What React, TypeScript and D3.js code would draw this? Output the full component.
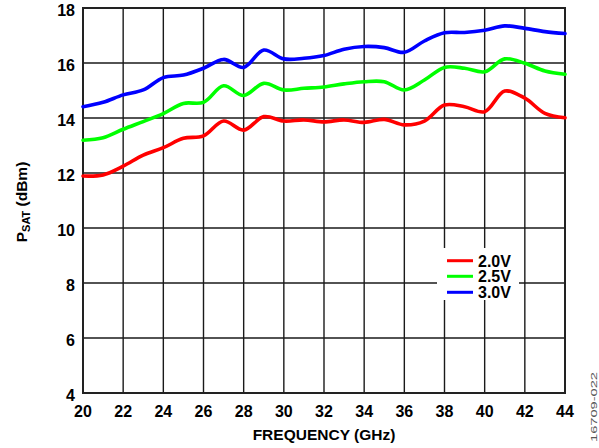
import React from "react";
import * as d3 from "d3";

const W = 599;
const H = 448;

const frequencies = [20, 21, 22, 23, 24, 25, 26, 27, 28, 29, 30, 31, 32, 33, 34, 35, 36, 37, 38, 39, 40, 41, 42, 43, 44];

const psat20V = [11.89, 11.93, 12.25, 12.65, 12.92, 13.26, 13.35, 13.89, 13.56, 14.05, 13.89, 13.93, 13.86, 13.93, 13.84, 13.95, 13.75, 13.89, 14.47, 14.41, 14.23, 14.98, 14.72, 14.17, 14.01];
const psat25V = [13.19, 13.28, 13.59, 13.87, 14.16, 14.53, 14.57, 15.17, 14.82, 15.26, 15.02, 15.08, 15.13, 15.24, 15.32, 15.32, 15.02, 15.38, 15.84, 15.81, 15.68, 16.15, 15.99, 15.71, 15.59];
const psat30V = [14.41, 14.57, 14.84, 15.02, 15.47, 15.56, 15.81, 16.13, 15.84, 16.47, 16.15, 16.17, 16.27, 16.5, 16.6, 16.56, 16.39, 16.8, 17.1, 17.11, 17.19, 17.35, 17.26, 17.14, 17.07];

const seriesNames = ["2.0V", "2.5V", "3.0V"];
const seriesColors = ["#ff0000", "#00ff00", "#0000ff"];
const seriesValues = [psat20V, psat25V, psat30V];

const xTicks = [20, 22, 24, 26, 28, 30, 32, 34, 36, 38, 40, 42, 44];
const yTicks = [4, 6, 8, 10, 12, 14, 16, 18];

const FONT = "'Liberation Sans', Arial, Helvetica, sans-serif";

export default function App() {
  const left = 83;
  const right = 565;
  const top = 8;
  const bottom = 393;

  const x = d3.scaleLinear().domain([20, 44]).range([left, right]);
  const y = d3.scaleLinear().domain([4, 18]).range([bottom, top]);

  const line = d3
    .line<[number, number]>()
    .x((d) => x(d[0]))
    .y((d) => y(d[1]))
    .curve(d3.curveCatmullRom.alpha(0.5));

  const legend = { x0: 437, x1: 519, y0: 248, y1: 300 };
  const legendRows = [260.7, 276.3, 292.3];

  return (
    <svg
      width={W}
      height={H}
      style={{ position: "absolute", left: 0, top: 0, background: "#fff" }}
      fontFamily={FONT}
    >
      <rect x={0} y={0} width={W} height={H} fill="#fff" />

      {/* grid */}
      {xTicks.map((t) => (
        <line key={"gx" + t} x1={x(t)} x2={x(t)} y1={top} y2={bottom} stroke="#1a1a1a" strokeWidth={1.4} />
      ))}
      {yTicks.map((t) => (
        <line key={"gy" + t} x1={left} x2={right} y1={y(t)} y2={y(t)} stroke="#1a1a1a" strokeWidth={1.4} />
      ))}

      {/* legend background hides grid behind it */}
      <rect x={legend.x0} y={legend.y0} width={legend.x1 - legend.x0} height={legend.y1 - legend.y0} fill="#fff" />

      {/* frame */}
      <rect x={left} y={top} width={right - left} height={bottom - top} fill="none" stroke="#222" strokeWidth={2} />

      {/* curves */}
      {seriesValues.map((vals, i) => (
        <path
          key={seriesNames[i]}
          d={line(frequencies.map((f, j) => [f, vals[j]] as [number, number])) || ""}
          fill="none"
          stroke={seriesColors[i]}
          strokeWidth={3.6}
          strokeLinejoin="round"
          strokeLinecap="round"
        />
      ))}

      {/* legend */}
      {seriesNames.map((name, i) => (
        <g key={"lg" + name}>
          <line x1={447} x2={473} y1={legendRows[i]} y2={legendRows[i]} stroke={seriesColors[i]} strokeWidth={3} />
          <text x={478} y={legendRows[i] + 6} fontSize={16} fontWeight="bold" fill="#000">
            {name}
          </text>
        </g>
      ))}

      {/* y tick labels */}
      {yTicks.map((t) => (
        <text key={"ty" + t} x={75} y={y(t) + 7.5} textAnchor="end" fontSize={16} fontWeight="bold" fill="#000">
          {t}
        </text>
      ))}

      {/* x tick labels */}
      {xTicks.map((t) => (
        <text key={"tx" + t} x={x(t)} y={416.5} textAnchor="middle" fontSize={16} fontWeight="bold" fill="#000">
          {t}
        </text>
      ))}

      {/* axis titles */}
      <text x={324} y={440} textAnchor="middle" fontSize={15.5} fontWeight="bold" fill="#000">
        FREQUENCY (GHz)
      </text>
      <text
        transform="translate(27,202) rotate(-90)"
        textAnchor="middle"
        fontSize={15.5}
        fontWeight="bold"
        fill="#000"
      >
        P
        <tspan fontSize={11} dy={3}>SAT</tspan>
        <tspan dy={-3}> (dBm)</tspan>
      </text>

      <text
        transform="translate(597,407) rotate(-90)"
        textAnchor="middle"
        fontSize={9}
        fill="#555"
        textLength={70}
        lengthAdjust="spacingAndGlyphs"
      >
        16709-022
      </text>
    </svg>
  );
}
